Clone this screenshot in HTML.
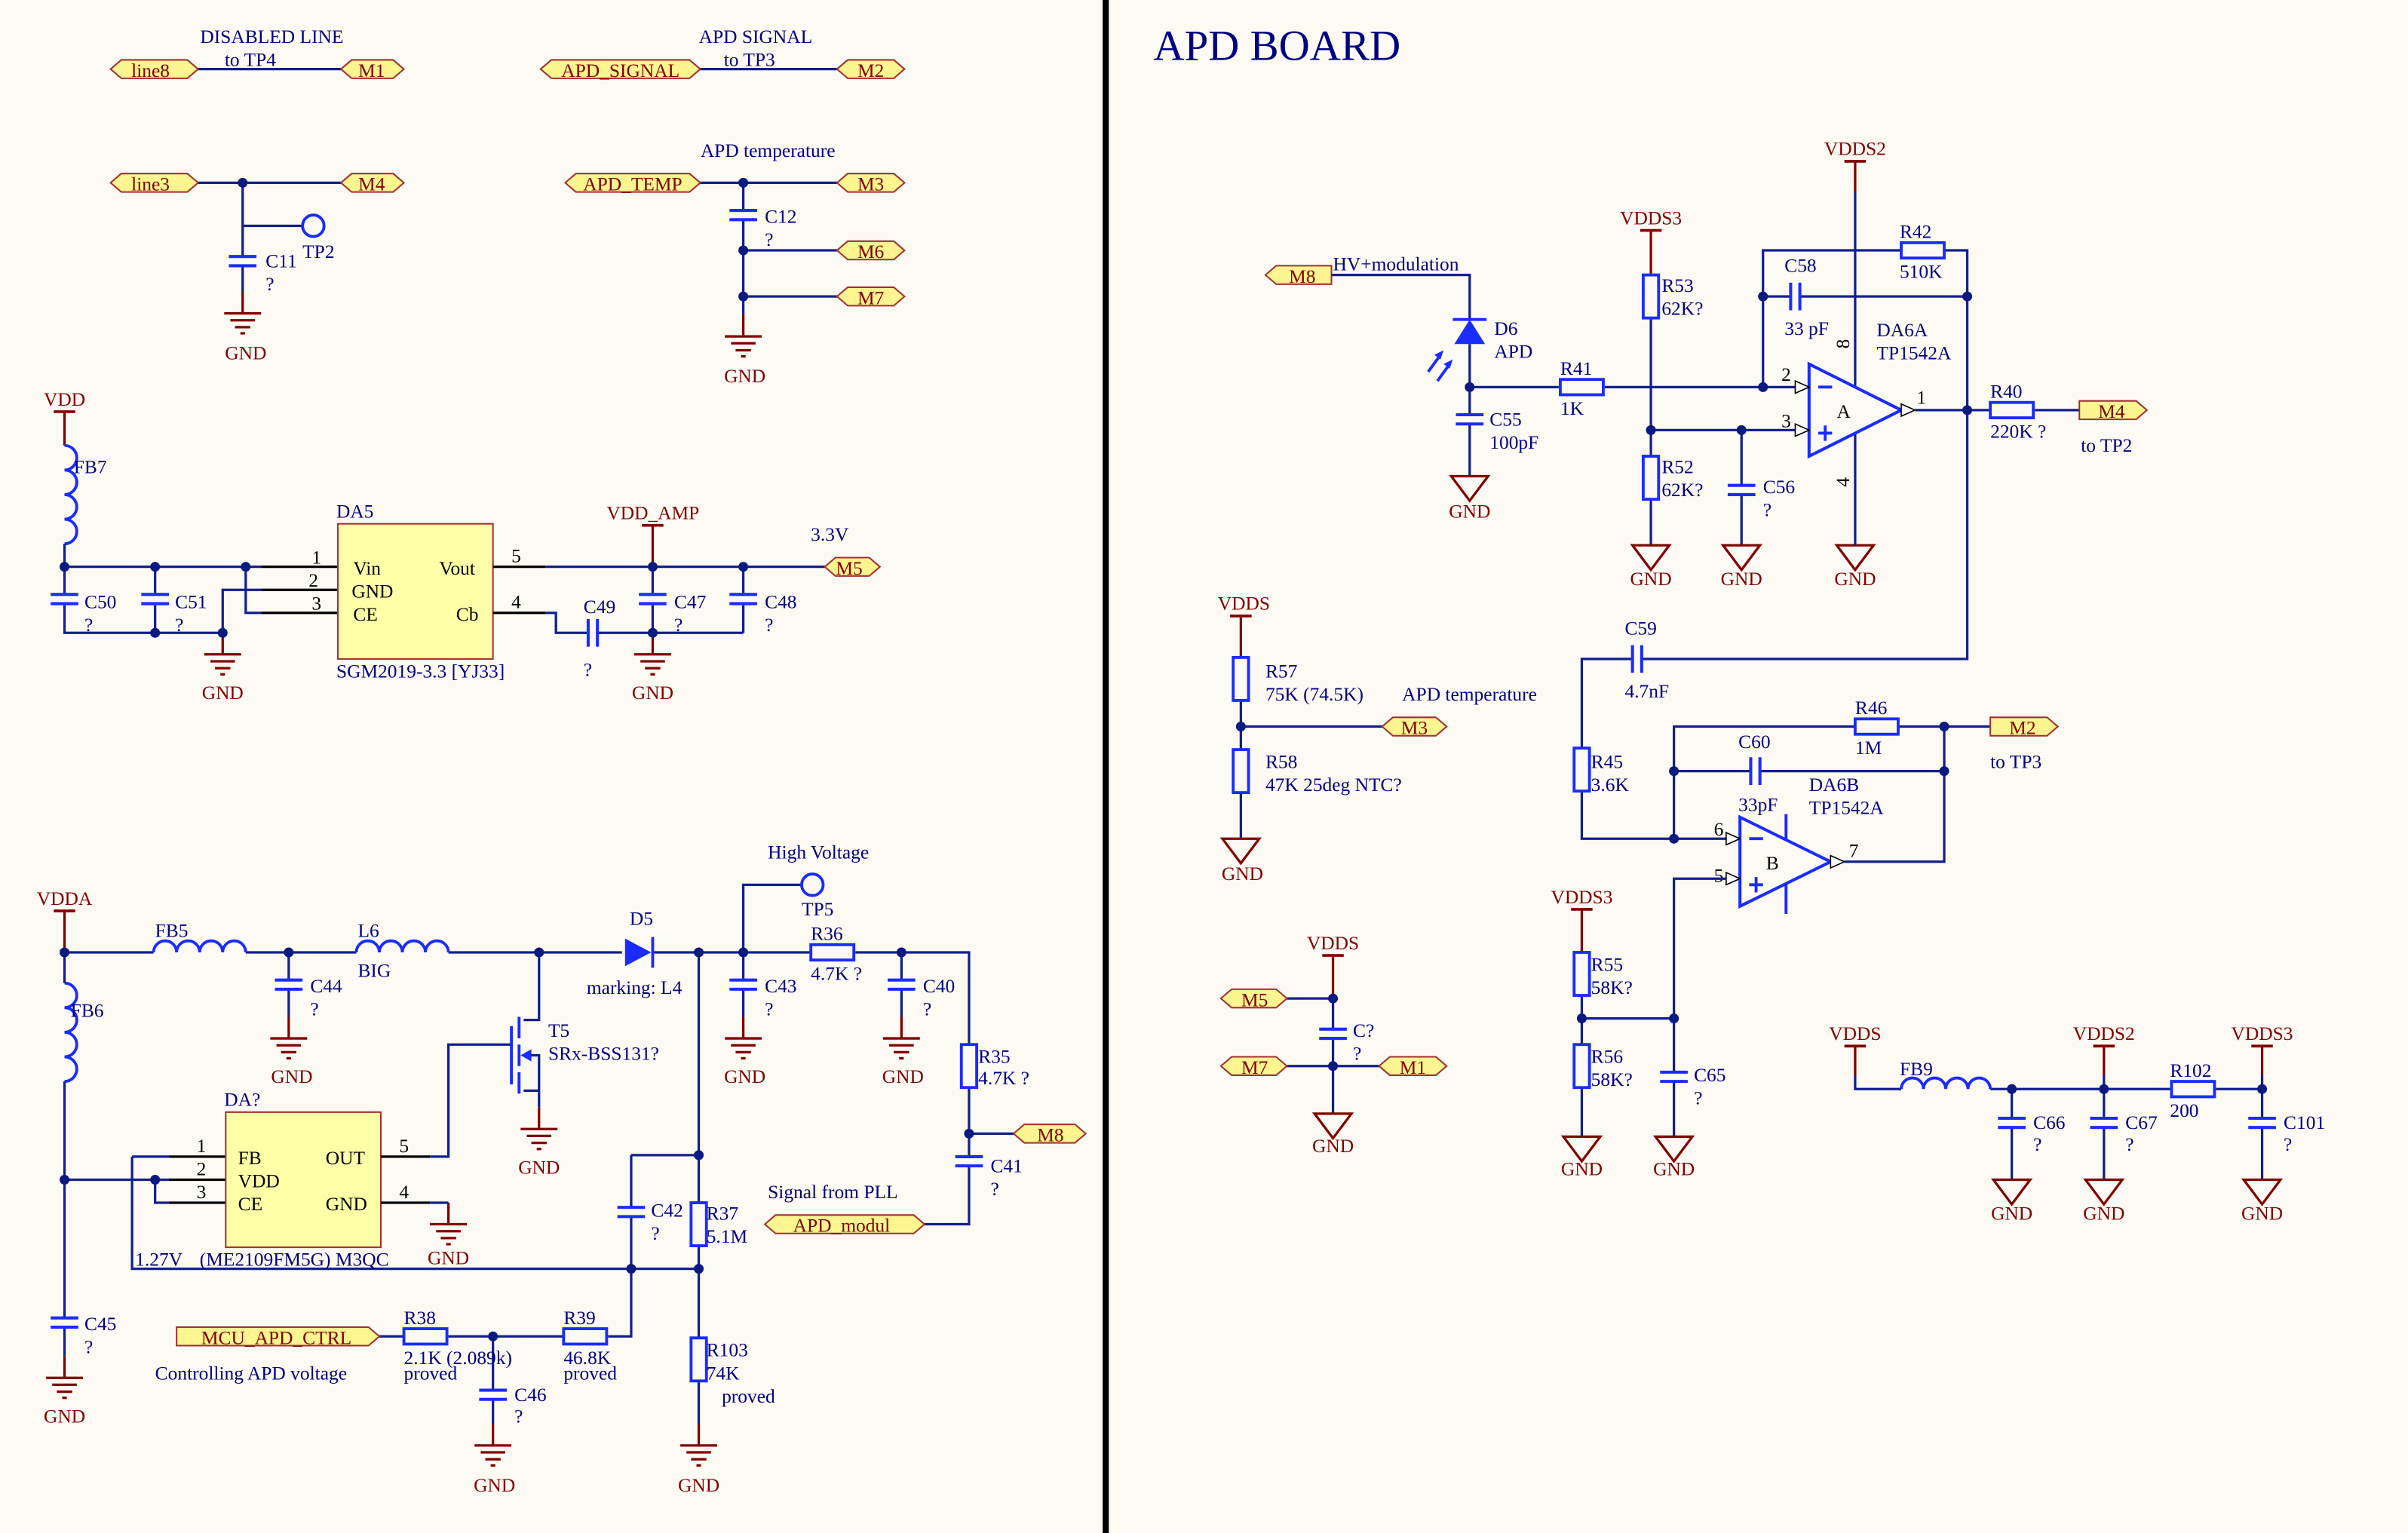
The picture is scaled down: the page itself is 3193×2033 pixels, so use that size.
<!DOCTYPE html>
<html><head><meta charset="utf-8">
<style>
html,body{margin:0;padding:0;background:#fdfaf4;}
svg{display:block;}
text{font-family:"Liberation Serif",serif;font-size:12.5px;fill:#000080;}
.r{fill:#800000;}
.k{fill:#000;}
.w{stroke:#12208a;stroke-width:1.6;fill:none;}
.c{stroke:#1a2cff;stroke-width:1.9;fill:none;}
.pr{stroke:#800000;stroke-width:1.6;fill:none;}
.bk{stroke:#000;stroke-width:1.6;fill:none;}
.port{fill:#fcf590;stroke:#a03030;stroke-width:1;}
.m{text-anchor:middle;}
</style></head>
<body>
<svg width="3193" height="2033" viewBox="0 0 1568 998" preserveAspectRatio="none" xmlns="http://www.w3.org/2000/svg">
<rect width="1568" height="998" fill="#fdfaf4"/>
<defs>
<g id="gb"><path d="M0,0V14M-12,14H12M-8,18.5H8M-5,23H5M-1.5,27H1.5" stroke="#800000" stroke-width="1.6" fill="none"/></g>
<g id="gt"><path d="M-12,0H12L0,16Z" stroke="#800000" stroke-width="1.6" fill="none"/></g>
<g id="cv"><path d="M-9,-3H9M-9,3H9" stroke="#1a2cff" stroke-width="2" fill="none"/></g>
<g id="ch"><path d="M-3,-9V9M3,-9V9" stroke="#1a2cff" stroke-width="2" fill="none"/></g>
<g id="rv"><rect x="-5" y="-14" width="10" height="28" stroke="#1a2cff" stroke-width="1.9" fill="none"/></g>
<g id="rh"><rect x="-14" y="-5" width="28" height="10" stroke="#1a2cff" stroke-width="1.9" fill="none"/></g>
<g id="d"><circle r="3.2" fill="#0a1a80"/></g>
<g id="pw"><path d="M-7,0H7" stroke="#800000" stroke-width="1.8"/></g>
</defs>

<rect x="718" y="0" width="4" height="998" fill="#000"/>

<!-- ===== TOP LEFT ===== -->
<text x="177" y="28" class="m">DISABLED LINE</text>
<text x="163" y="43" class="m">to TP4</text>
<text x="492" y="28" class="m">APD SIGNAL</text>
<text x="488" y="43" class="m">to TP3</text>
<text x="500" y="102" class="m">APD temperature</text>

<path class="w" d="M128,45H222M455,45H545M128,119H222M158,119V167M158,173V190M158,147H197M455,119H545M484,119V137M484,143V205M484,163H545M484,193H545"/>
<circle cx="204" cy="147" r="7" class="c"/>
<use href="#cv" x="158" y="170"/><use href="#cv" x="484" y="140"/>
<use href="#gb" x="158" y="190"/><use href="#gb" x="484" y="205"/>
<text x="173" y="174">C11</text><text x="173" y="189">?</text>
<text x="197" y="168">TP2</text>
<text x="160" y="234" class="r m">GND</text>
<text x="498" y="145">C12</text><text x="498" y="160">?</text>
<text x="485" y="249" class="r m">GND</text>

<polygon class="port" points="72,45 79,39 122,39 129,45 122,51 79,51"/><text x="98" y="50" class="r m">line8</text>
<polygon class="port" points="222,45 229,39 256,39 263,45 256,51 229,51"/><text x="242" y="50" class="r m">M1</text>
<polygon class="port" points="352,45 359,39 449,39 456,45 449,51 359,51"/><text x="404" y="50" class="r m">APD_SIGNAL</text>
<polygon class="port" points="545,45 552,39 582,39 589,45 582,51 552,51"/><text x="567" y="50" class="r m">M2</text>
<polygon class="port" points="72,119 79,113 122,113 129,119 122,125 79,125"/><text x="98" y="124" class="r m">line3</text>
<polygon class="port" points="222,119 229,113 256,113 263,119 256,125 229,125"/><text x="242" y="124" class="r m">M4</text>
<polygon class="port" points="368,119 375,113 449,113 456,119 449,125 375,125"/><text x="412" y="124" class="r m">APD_TEMP</text>
<polygon class="port" points="545,119 552,113 582,113 589,119 582,125 552,125"/><text x="567" y="124" class="r m">M3</text>
<polygon class="port" points="545,163 552,157 582,157 589,163 582,169 552,169"/><text x="567" y="168" class="r m">M6</text>
<polygon class="port" points="545,193 552,187 582,187 589,193 582,199 552,199"/><text x="567" y="198" class="r m">M7</text>

<!-- ===== VDD / DA5 ===== -->
<text x="42" y="264" class="r m">VDD</text>
<use href="#pw" x="42" y="268"/>
<path class="pr" d="M42,268V290"/>
<path class="c" d="M42,290a8,8 0 0 1 0,16a8,8 0 0 1 0,16a8,8 0 0 1 0,16a8,8 0 0 1 0,16"/>
<text x="48" y="308">FB7</text>
<path class="w" d="M42,354V386M42,394V412H145M42,369H170M101,369V386M101,394V412M160,369V399H170M145,412V384H170"/>
<path class="bk" d="M170,369H220M170,384H220M170,399H220"/>
<use href="#cv" x="42" y="390"/><use href="#cv" x="101" y="390"/>
<use href="#gb" x="145" y="412"/>
<text x="55" y="396">C50</text><text x="55" y="411">?</text>
<text x="114" y="396">C51</text><text x="114" y="411">?</text>
<text x="145" y="455" class="r m">GND</text>
<text x="203" y="367" class="k">1</text><text x="201" y="382" class="k">2</text><text x="203" y="397" class="k">3</text>
<rect x="220" y="341" width="101" height="88" fill="#ffffa8" stroke="#a03030" stroke-width="1"/>
<text x="230" y="374" class="k">Vin</text><text x="229" y="389" class="k">GND</text><text x="230" y="404" class="k">CE</text>
<text x="286" y="374" class="k">Vout</text><text x="297" y="404" class="k">Cb</text>
<text x="219" y="337">DA5</text>
<text x="219" y="441">SGM2019-3.3 [YJ33]</text>
<path class="bk" d="M321,369H355M321,399H355"/>
<text x="333" y="366" class="k">5</text><text x="333" y="396" class="k">4</text>
<path class="w" d="M355,369H544M425,369V386M425,394V412M484,369V386M484,394V412M355,399H362V412H383M389,412H484"/>
<use href="#ch" x="386" y="412"/>
<use href="#cv" x="425" y="390"/><use href="#cv" x="484" y="390"/>
<use href="#gb" x="425" y="412"/>
<text x="395" y="338" class="r">VDD_AMP</text>
<use href="#pw" x="425" y="342"/><path class="pr" d="M425,342V369"/>
<text x="528" y="352">3.3V</text>
<text x="380" y="399">C49</text><text x="380" y="440">?</text>
<text x="439" y="396">C47</text><text x="439" y="411">?</text>
<text x="498" y="396">C48</text><text x="498" y="411">?</text>
<text x="425" y="455" class="r m">GND</text>
<polygon class="port" points="537,369 544,363 566,363 573,369 566,375 544,375"/><text x="553" y="374" class="r m">M5</text>

<!-- ===== BOTTOM LEFT ===== -->
<text x="42" y="589" class="r m">VDDA</text>
<use href="#pw" x="42" y="593"/><path class="pr" d="M42,593V620"/>
<path class="w" d="M42,620H100M160,620H232M292,620H405M425,620H528M557,620H631V680M631,708V753M631,759V797H601M631,738H660"/>
<path class="c" d="M100,620a7.5,7.5 0 0 1 15,0a7.5,7.5 0 0 1 15,0a7.5,7.5 0 0 1 15,0a7.5,7.5 0 0 1 15,0"/>
<path class="c" d="M232,620a7.5,7.5 0 0 1 15,0a7.5,7.5 0 0 1 15,0a7.5,7.5 0 0 1 15,0a7.5,7.5 0 0 1 15,0"/>
<text x="101" y="610">FB5</text>
<text x="233" y="610">L6</text><text x="233" y="636">BIG</text>
<polygon points="407,611 407,629 424,620" fill="#1a2cff"/>
<path class="c" d="M425,610V630"/>
<text x="410" y="602">D5</text><text x="382" y="647">marking: L4</text>
<path class="w" d="M188,620V638M188,644V662M484,620V638M484,644V662M484,620V576H522M587,620V638M587,644V662"/>
<use href="#cv" x="188" y="641"/><use href="#cv" x="484" y="641"/><use href="#cv" x="587" y="641"/>
<use href="#gb" x="188" y="662"/><use href="#gb" x="484" y="662"/><use href="#gb" x="587" y="662"/>
<text x="202" y="646">C44</text><text x="202" y="661">?</text>
<text x="498" y="646">C43</text><text x="498" y="661">?</text>
<text x="601" y="646">C40</text><text x="601" y="661">?</text>
<text x="190" y="705" class="r m">GND</text><text x="485" y="705" class="r m">GND</text><text x="588" y="705" class="r m">GND</text>
<circle cx="529" cy="576" r="7" class="c"/>
<text x="500" y="559">High Voltage</text><text x="522" y="596">TP5</text>
<use href="#rh" x="542" y="620"/>
<text x="528" y="612">R36</text><text x="528" y="638">4.7K ?</text>
<use href="#rv" x="631" y="694"/>
<text x="637" y="692">R35</text><text x="637" y="706">4.7K ?</text>
<use href="#cv" x="631" y="756"/>
<text x="645" y="763">C41</text><text x="645" y="778">?</text>
<polygon class="port" points="660,738 667,732 700,732 707,738 700,744 667,744"/><text x="684" y="743" class="r m">M8</text>
<text x="500" y="780">Signal from PLL</text>
<polygon class="port" points="498,797 505,791 595,791 602,797 595,803 505,803"/><text x="548" y="802" class="r m">APD_modul</text>

<path class="c" d="M42,640a8,8 0 0 1 0,16a8,8 0 0 1 0,16a8,8 0 0 1 0,16a8,8 0 0 1 0,16"/>
<text x="46" y="662">FB6</text>
<path class="w" d="M42,704V858M42,864V883M42,620V640M42,768H110M86,753H110M86,753V826H455M101,768V783H110"/>
<path class="bk" d="M110,753H147M110,768H147M110,783H147"/>
<text x="128" y="750" class="k">1</text><text x="128" y="765" class="k">2</text><text x="128" y="780" class="k">3</text>
<use href="#cv" x="42" y="861"/>
<use href="#gb" x="42" y="883"/>
<text x="55" y="866">C45</text><text x="55" y="881">?</text>
<text x="42" y="926" class="r m">GND</text>
<rect x="147" y="724" width="101" height="88" fill="#ffffa8" stroke="#a03030" stroke-width="1"/>
<text x="146" y="720">DA?</text>
<text x="155" y="758" class="k">FB</text><text x="155" y="773" class="k">VDD</text><text x="155" y="788" class="k">CE</text>
<text x="212" y="758" class="k">OUT</text><text x="212" y="788" class="k">GND</text>
<text x="88" y="824">1.27V</text><text x="130" y="824">(ME2109FM5G) M3QC</text>
<path class="bk" d="M248,753H280M248,783H280"/>
<text x="260" y="750" class="k">5</text><text x="260" y="780" class="k">4</text>
<path class="w" d="M280,753H292V680H333M280,783H292"/>
<use href="#gb" x="292" y="783"/>
<text x="292" y="823" class="r m">GND</text>
<path class="w" d="M351,620V664H341M341,710H351V721M341,687H351V710"/>
<path class="c" d="M333,668V706M338,662V676M338,680V694M338,698V712"/>
<polygon points="339,687 346,683 346,691" fill="#1a2cff"/>
<use href="#gb" x="351" y="721"/>
<text x="351" y="764" class="r m">GND</text>
<text x="357" y="675">T5</text><text x="357" y="690">SRx-BSS131?</text>
<path class="w" d="M455,620V783M455,811V871M455,899V927M411,752H455M411,752V786M411,792V870H396M367,870H292M263,870H247M321,870V905M321,911V927"/>
<use href="#rv" x="455" y="797"/><use href="#rv" x="455" y="885"/>
<use href="#cv" x="411" y="789"/><use href="#cv" x="321" y="908"/>
<use href="#rh" x="277" y="870"/><use href="#rh" x="381" y="870"/>
<use href="#gb" x="455" y="927"/><use href="#gb" x="321" y="927"/>
<text x="460" y="794">R37</text><text x="460" y="809">5.1M</text>
<text x="424" y="792">C42</text><text x="424" y="807">?</text>
<text x="460" y="883">R103</text><text x="460" y="898">74K</text><text x="470" y="913">proved</text>
<text x="263" y="862">R38</text><text x="263" y="888">2.1K (2.089k)</text><text x="263" y="898">proved</text>
<text x="367" y="862">R39</text><text x="367" y="888">46.8K</text><text x="367" y="898">proved</text>
<text x="335" y="912">C46</text><text x="335" y="926">?</text>
<text x="322" y="971" class="r m">GND</text><text x="455" y="971" class="r m">GND</text>
<polygon class="port" points="115,864 240,864 247,870 240,876 115,876"/><text x="180" y="875" class="r m">MCU_APD_CTRL</text>
<text x="101" y="898">Controlling APD voltage</text>

<use href="#d" x="158" y="119"/><use href="#d" x="484" y="119"/><use href="#d" x="484" y="163"/><use href="#d" x="484" y="193"/>
<use href="#d" x="42" y="369"/><use href="#d" x="101" y="369"/><use href="#d" x="160" y="369"/><use href="#d" x="101" y="412"/><use href="#d" x="145" y="412"/>
<use href="#d" x="425" y="369"/><use href="#d" x="484" y="369"/><use href="#d" x="425" y="412"/>
<use href="#d" x="42" y="620"/><use href="#d" x="188" y="620"/><use href="#d" x="351" y="620"/><use href="#d" x="455" y="620"/><use href="#d" x="484" y="620"/><use href="#d" x="587" y="620"/>
<use href="#d" x="631" y="738"/><use href="#d" x="42" y="768"/><use href="#d" x="101" y="768"/><use href="#d" x="411" y="826"/><use href="#d" x="455" y="826"/><use href="#d" x="455" y="752"/><use href="#d" x="321" y="870"/>

<!-- ===== RIGHT ===== -->
<text x="751" y="39" style="font-size:28px">APD BOARD</text>

<polygon class="port" points="824,179 831,173 867,173 867,185 831,185"/><text x="848" y="184" class="r m">M8</text>
<text x="868" y="176">HV+modulation</text>
<path class="w" d="M867,179H957V208M957,224V270M957,276V310M957,252H1015M1045,252H1178M1148,252V163H1238M1266,163H1281V429H1069M1063,429H1030V487M1030,515V546H1128M1148,193H1166M1172,193H1281"/>
<polygon points="947,224 967,224 957,208" fill="#1a2cff"/>
<path class="c" d="M946,208H968"/>
<path class="c" d="M930,242L938,231M936,248L944,237"/>
<polygon points="940,228 934,231 938,234" fill="#1a2cff"/><polygon points="946,234 940,237 944,240" fill="#1a2cff"/>
<text x="973" y="218">D6</text><text x="973" y="233">APD</text>
<use href="#cv" x="957" y="273"/>
<text x="970" y="277">C55</text><text x="970" y="292">100pF</text>
<use href="#gt" x="957" y="310"/><text x="957" y="337" class="r m">GND</text>
<use href="#rh" x="1030" y="252"/>
<text x="1016" y="244">R41</text><text x="1016" y="270">1K</text>
<text x="1075" y="146" class="r m">VDDS3</text>
<use href="#pw" x="1075" y="150"/><path class="pr" d="M1075,150V179"/>
<path class="w" d="M1075,207V297M1075,325V355M1075,280H1178M1134,280V316M1134,322V355"/>
<use href="#rv" x="1075" y="193"/><use href="#rv" x="1075" y="311"/>
<text x="1082" y="190">R53</text><text x="1082" y="205">62K?</text>
<text x="1082" y="308">R52</text><text x="1082" y="323">62K?</text>
<use href="#cv" x="1134" y="319"/>
<text x="1148" y="321">C56</text><text x="1148" y="336">?</text>
<use href="#gt" x="1075" y="355"/><use href="#gt" x="1134" y="355"/><use href="#gt" x="1208" y="355"/>
<text x="1075" y="381" class="r m">GND</text><text x="1134" y="381" class="r m">GND</text><text x="1208" y="381" class="r m">GND</text>
<use href="#ch" x="1169" y="193"/>
<text x="1162" y="177">C58</text><text x="1162" y="218">33 pF</text>
<use href="#rh" x="1252" y="163"/>
<text x="1237" y="155">R42</text><text x="1237" y="181">510K</text>
<text x="1222" y="219">DA6A</text><text x="1222" y="234">TP1542A</text>
<text x="1208" y="101" class="r m">VDDS2</text>
<use href="#pw" x="1208" y="105"/><path class="pr" d="M1208,105V125"/>
<path class="w" d="M1208,125V252M1208,282V355"/>
<polygon points="1178,237 1178,297 1238,267" fill="none" stroke="#1a2cff" stroke-width="2"/>
<path class="c" d="M1184,252H1193M1184,282H1193M1188.5,277V287"/>
<text x="1196" y="272" class="k">A</text>
<path d="M1169,248L1178,252L1169,256Z M1169,276L1178,280L1169,284Z M1238,263L1247,267L1238,271Z" fill="#fff" stroke="#000" stroke-width="0.8"/>
<text x="1160" y="248" class="k">2</text><text x="1160" y="278" class="k">3</text><text x="1248" y="263" class="k">1</text>
<text x="1195" y="226" class="k" transform="rotate(-90 1200 222)">8</text>
<text x="1195" y="316" class="k" transform="rotate(-90 1200 312)">4</text>
<path class="w" d="M1247,267H1296M1325,267H1354"/>
<use href="#rh" x="1310" y="267"/>
<text x="1296" y="259">R40</text><text x="1296" y="285">220K ?</text>
<polygon class="port" points="1354,261 1391,261 1398,267 1391,273 1354,273"/><text x="1375" y="272" class="r m">M4</text>
<text x="1355" y="294">to TP2</text>
<use href="#ch" x="1066" y="429"/>
<text x="1058" y="413">C59</text><text x="1058" y="454">4.7nF</text>
<use href="#rv" x="1030" y="501"/>
<text x="1036" y="500">R45</text><text x="1036" y="515">3.6K</text>
<polygon points="1133,532 1133,590 1192,561" fill="none" stroke="#1a2cff" stroke-width="2"/>
<path class="c" d="M1139,546H1148M1139,576H1148M1143.5,571V581M1163,530V547M1163,575V595"/>
<text x="1150" y="566" class="k">B</text>
<path d="M1124,542L1133,546L1124,550Z M1124,568L1133,572L1124,576Z M1192,557L1201,561L1192,565Z" fill="#fff" stroke="#000" stroke-width="0.8"/>
<text x="1116" y="544" class="k">6</text><text x="1116" y="574" class="k">5</text><text x="1204" y="558" class="k">7</text>
<path class="w" d="M1201,561H1266V473M1090,546V473H1208M1236,473H1296M1090,502H1140M1146,502H1266M1124,572H1090V698M1090,704V740M1030,648V680M1030,708V740M1030,663H1090"/>
<use href="#rh" x="1222" y="473"/><use href="#ch" x="1143" y="502"/>
<text x="1208" y="465">R46</text><text x="1208" y="491">1M</text>
<text x="1132" y="487">C60</text><text x="1132" y="528">33pF</text>
<text x="1178" y="515">DA6B</text><text x="1178" y="530">TP1542A</text>
<polygon class="port" points="1296,467 1333,467 1340,473 1333,479 1296,479"/><text x="1317" y="478" class="r m">M2</text>
<text x="1296" y="500">to TP3</text>
<text x="1030" y="588" class="r m">VDDS3</text>
<use href="#pw" x="1030" y="592"/><path class="pr" d="M1030,592V620"/>
<use href="#rv" x="1030" y="634"/><use href="#rv" x="1030" y="694"/>
<text x="1036" y="632">R55</text><text x="1036" y="647">58K?</text>
<text x="1036" y="692">R56</text><text x="1036" y="707">58K?</text>
<use href="#cv" x="1090" y="701"/>
<text x="1103" y="704">C65</text><text x="1103" y="719">?</text>
<use href="#gt" x="1030" y="740"/><use href="#gt" x="1090" y="740"/>
<text x="1030" y="765" class="r m">GND</text><text x="1090" y="765" class="r m">GND</text>

<text x="810" y="397" class="r m">VDDS</text>
<use href="#pw" x="808" y="401"/><path class="pr" d="M808,401V428"/>
<path class="w" d="M808,456V488M808,516V546M808,473H900"/>
<use href="#rv" x="808" y="442"/><use href="#rv" x="808" y="502"/>
<text x="824" y="441">R57</text><text x="824" y="456">75K (74.5K)</text>
<text x="913" y="456">APD temperature</text>
<text x="824" y="500">R58</text><text x="824" y="515">47K 25deg NTC?</text>
<polygon class="port" points="900,473 907,467 935,467 942,473 935,479 907,479"/><text x="921" y="478" class="r m">M3</text>
<use href="#gt" x="808" y="546"/><text x="809" y="573" class="r m">GND</text>

<text x="868" y="618" class="r m">VDDS</text>
<use href="#pw" x="868" y="622"/><path class="pr" d="M868,622V650"/>
<path class="w" d="M838,650H868V670M868,676V725M838,694H898"/>
<use href="#cv" x="868" y="673"/>
<text x="881" y="675">C?</text><text x="881" y="690">?</text>
<polygon class="port" points="795,650 802,644 831,644 838,650 831,656 802,656"/><text x="817" y="655" class="r m">M5</text>
<polygon class="port" points="795,694 802,688 831,688 838,694 831,700 802,700"/><text x="817" y="699" class="r m">M7</text>
<polygon class="port" points="898,694 905,688 935,688 942,694 935,700 905,700"/><text x="920" y="699" class="r m">M1</text>
<use href="#gt" x="868" y="725"/><text x="868" y="750" class="r m">GND</text>

<text x="1208" y="677" class="r m">VDDS</text>
<text x="1370" y="677" class="r m">VDDS2</text>
<text x="1473" y="677" class="r m">VDDS3</text>
<use href="#pw" x="1208" y="681"/><use href="#pw" x="1370" y="681"/><use href="#pw" x="1473" y="681"/>
<path class="pr" d="M1208,681V700M1370,681V700M1473,681V700"/>
<path class="w" d="M1208,700V709H1238M1296,709H1413M1443,709H1473M1370,700V709M1473,700V728M1310,709V728M1310,734V768M1370,709V728M1370,734V768M1473,734V768"/>
<path class="c" d="M1238,709a7.25,7.25 0 0 1 14.5,0a7.25,7.25 0 0 1 14.5,0a7.25,7.25 0 0 1 14.5,0a7.25,7.25 0 0 1 14.5,0"/>
<text x="1237" y="700">FB9</text>
<use href="#rh" x="1428" y="709"/>
<text x="1413" y="701">R102</text><text x="1413" y="727">200</text>
<use href="#cv" x="1310" y="731"/><use href="#cv" x="1370" y="731"/><use href="#cv" x="1473" y="731"/>
<text x="1324" y="735">C66</text><text x="1324" y="749">?</text>
<text x="1384" y="735">C67</text><text x="1384" y="749">?</text>
<text x="1487" y="735">C101</text><text x="1487" y="749">?</text>
<use href="#gt" x="1310" y="768"/><use href="#gt" x="1370" y="768"/><use href="#gt" x="1473" y="768"/>
<text x="1310" y="794" class="r m">GND</text><text x="1370" y="794" class="r m">GND</text><text x="1473" y="794" class="r m">GND</text>

<use href="#d" x="957" y="252"/><use href="#d" x="1148" y="252"/><use href="#d" x="1075" y="280"/><use href="#d" x="1134" y="280"/>
<use href="#d" x="1148" y="193"/><use href="#d" x="1281" y="193"/><use href="#d" x="1281" y="267"/>
<use href="#d" x="1090" y="546"/><use href="#d" x="1090" y="502"/><use href="#d" x="1266" y="502"/><use href="#d" x="1266" y="473"/>
<use href="#d" x="1030" y="663"/><use href="#d" x="1090" y="663"/><use href="#d" x="808" y="473"/><use href="#d" x="868" y="650"/><use href="#d" x="868" y="694"/>
<use href="#d" x="1310" y="709"/><use href="#d" x="1370" y="709"/><use href="#d" x="1473" y="709"/>
</svg>
</body></html>
